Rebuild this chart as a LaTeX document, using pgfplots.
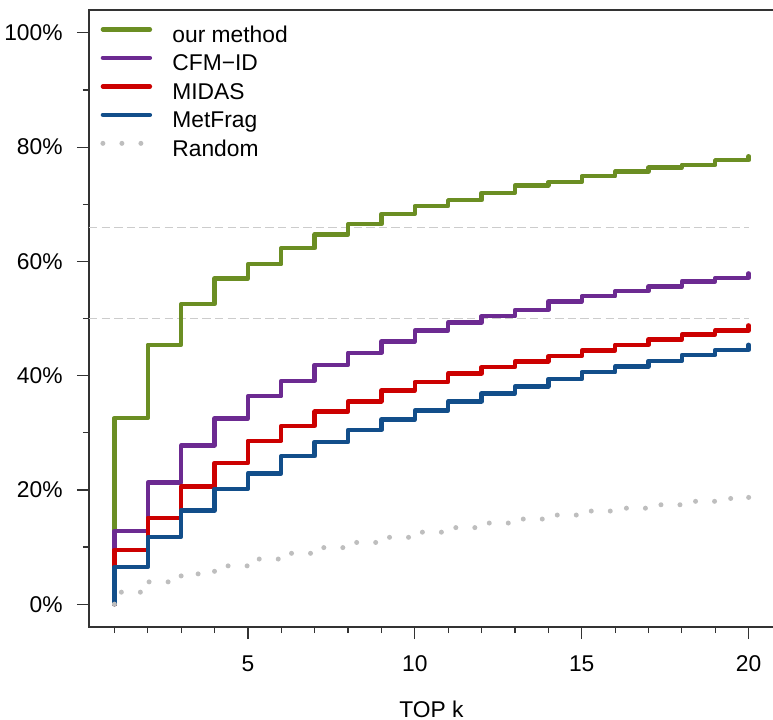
\documentclass[border=0pt]{standalone}
\usepackage{fontspec}
\setmainfont{Liberation Sans}
\usepackage{pgfplots}
\pgfplotsset{compat=1.18}

\definecolor{cgreen}{RGB}{107,142,35}
\definecolor{cpurple}{RGB}{108,42,145}
\definecolor{cred}{RGB}{204,0,0}
\definecolor{cblue}{RGB}{18,78,138}
\definecolor{cgray}{RGB}{190,190,190}
\newcommand{\chartfont}{\fontsize{11.4}{13.7}\selectfont}

\begin{document}
\begin{tikzpicture}
\begin{axis}[
    scale only axis, width=342.5pt, height=308.5pt,
    xmin=0.24, xmax=20.76, ymin=-4, ymax=104,
    axis line style={black!80, line width=0.6pt},
    tick align=outside, xtick pos=left, ytick pos=left,
    xtick={5,10,15,20},
    minor xtick={1,2,3,4,6,7,8,9,11,12,13,14,16,17,18,19},
    ytick={0,20,40,60,80,100}, minor ytick={10,30,50,70,90},
    major tick length=6pt, minor tick length=3pt,
    every tick/.style={black!80, line width=0.6pt},
    /pgf/number format/assume math mode=true,
    yticklabel={\pgfmathprintnumber{\tick}\%},
    tick label style={font=\chartfont, inner sep=0pt},
    xticklabel shift=8pt, yticklabel shift=7pt,
    xlabel={TOP k},
    xlabel style={font=\chartfont, inner sep=0pt, anchor=base,
      at={(axis description cs:0.5,0)}, yshift=-45pt},
    legend cell align=left,
    legend style={draw=none, fill=none, at={(axis description cs:0,1)},
      anchor=north west, xshift=5.5pt, yshift=-6.85pt, inner sep=0pt,
      row sep=0pt, font=\chartfont,
      nodes={inner sep=0pt, text height=9pt, text depth=5.25pt},
      /tikz/every odd column/.append style={column sep=10pt}},
    legend image code/.code={\draw[#1] (0pt,4.5pt) -- (23.5pt,4.5pt);},
    every axis plot/.append style={line join=round, line cap=round},
  ]
  % reference levels
  \addplot[forget plot, draw=black!20, line width=0.5pt, line cap=butt, dash pattern=on 4.2pt off 2.1pt]
    coordinates {(0.24,66) (20,66)};
  \addplot[forget plot, draw=black!20, line width=0.5pt, line cap=butt, dash pattern=on 4.2pt off 2.1pt]
    coordinates {(0.24,50) (20,50)};

  \addplot[const plot, cgreen, line width=2.2pt] coordinates {
    (1,0) (1,32.6) (2,45.4) (3,52.5) (4,57.0) (5,59.5) (6,62.3) (7,64.7) (8,66.5) (9,68.3) (10,69.7)
    (11,70.7) (12,72.0) (13,73.3) (14,73.9) (15,74.9) (16,75.7) (17,76.4) (18,76.9) (19,77.7) (20,78.4)};
  \addlegendentry{our method}
  \addplot[const plot, cpurple, line width=2.2pt] coordinates {
    (1,0) (1,12.8) (2,21.3) (3,27.8) (4,32.5) (5,36.4) (6,39.1) (7,41.9) (8,44.0) (9,46.0) (10,47.9)
    (11,49.3) (12,50.4) (13,51.5) (14,53.0) (15,53.9) (16,54.8) (17,55.6) (18,56.5) (19,57.1) (20,57.9)};
  \addlegendentry{CFM−ID}
  \addplot[const plot, cred, line width=2.2pt] coordinates {
    (1,0) (1,9.5) (2,15.1) (3,20.6) (4,24.7) (5,28.6) (6,31.2) (7,33.7) (8,35.5) (9,37.4) (10,38.9)
    (11,40.4) (12,41.5) (13,42.5) (14,43.4) (15,44.4) (16,45.4) (17,46.3) (18,47.2) (19,47.9) (20,48.8)};
  \addlegendentry{MIDAS}
  \addplot[const plot, cblue, line width=2.2pt] coordinates {
    (1,0) (1,6.5) (2,11.8) (3,16.4) (4,20.2) (5,22.9) (6,25.9) (7,28.4) (8,30.5) (9,32.3) (10,33.9)
    (11,35.5) (12,36.9) (13,38.1) (14,39.4) (15,40.6) (16,41.6) (17,42.6) (18,43.6) (19,44.5) (20,45.4)};
  \addlegendentry{MetFrag}
  \addplot[const plot, cgray, line width=2.5pt, dash pattern=on 0pt off 9.5pt] coordinates {
    (1,0) (1,2.1) (2,3.9) (3,5.3) (4,6.7) (5,7.9) (6,8.9) (7,9.9) (8,10.8) (9,11.7) (10,12.6)
    (11,13.4) (12,14.2) (13,14.9) (14,15.6) (15,16.3) (16,16.8) (17,17.4) (18,18.0) (19,18.5) (20,18.7)};
  \addlegendentry{Random}

  \coordinate (bl) at (rel axis cs:0,0);
  \coordinate (tr) at (rel axis cs:1,1);
\end{axis}
\pgfresetboundingbox
\path[use as bounding box] ([shift={(-44.5pt,-46pt)}]bl) rectangle ([shift={(-0.5pt,5pt)}]tr);
\end{tikzpicture}
\end{document}
